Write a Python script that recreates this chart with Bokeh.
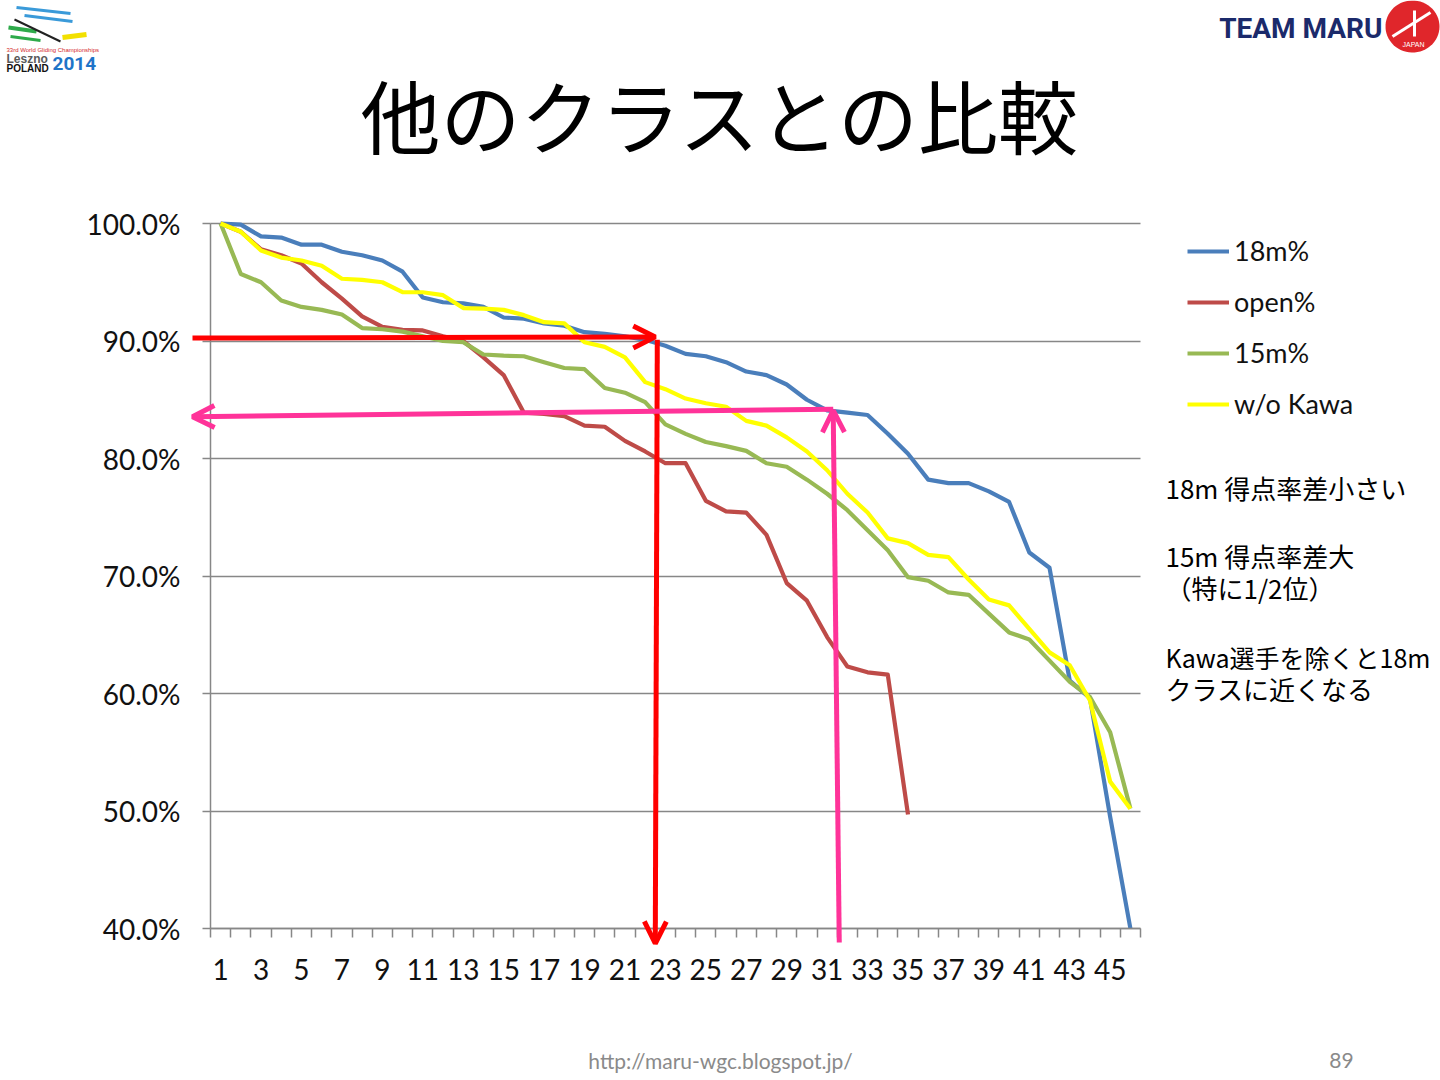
import numpy as np
from bokeh.plotting import figure
from bokeh.models import (Range1d, FixedTicker, PrintfTickFormatter, Legend, LegendItem,
                          Label, Arrow, OpenHead, PolyAnnotation, LinearAxis, Grid)
from bokeh.embed import file_html
from bokeh.resources import INLINE

# ---------------- data ----------------
places = list(range(1, 47))
pct_18m = [100.0, 99.9, 98.9, 98.8, 98.2, 98.2, 97.6, 97.3, 96.85, 95.9,
           93.7, 93.3, 93.2, 92.9, 92.0, 91.9, 91.5, 91.3, 90.75, 90.6,
           90.4, 90.1, 89.6, 88.9, 88.7, 88.2, 87.4, 87.1, 86.3, 85.0,
           84.1, 83.9, 83.7, 82.1, 80.4, 78.2, 77.9, 77.9, 77.2, 76.3,
           72.0, 70.7, 61.1, 59.6, 49.5, 40.0]
pct_open = [100.0, 99.3, 97.8, 97.3, 96.6, 95.0, 93.6, 92.1, 91.2, 90.95,
            90.9, 90.4, 90.0, 88.6, 87.1, 83.9, 83.8, 83.6, 82.8, 82.7,
            81.5, 80.6, 79.6, 79.6, 76.4, 75.5, 75.4, 73.5, 69.4, 67.9,
            64.8, 62.3, 61.8, 61.6, 49.7]
pct_15m = [100.0, 95.7, 95.0, 93.45, 92.9, 92.65, 92.25, 91.1, 91.0, 90.8,
           90.4, 90.0, 89.9, 88.85, 88.75, 88.7, 88.2, 87.7, 87.6, 86.0,
           85.6, 84.8, 82.9, 82.1, 81.4, 81.05, 80.65, 79.6, 79.3, 78.2,
           77.0, 75.6, 73.9, 72.2, 69.9, 69.6, 68.6, 68.4, 66.8, 65.2,
           64.6, 62.8, 61.0, 59.7, 56.7, 50.2]
pct_wo_kawa = [100.0, 99.3, 97.7, 97.1, 96.85, 96.4, 95.3, 95.2, 95.0, 94.15,
               94.15, 93.9, 92.8, 92.75, 92.65, 92.2, 91.6, 91.5, 89.9, 89.5,
               88.6, 86.5, 85.9, 85.1, 84.7, 84.4, 83.2, 82.8, 81.8, 80.6,
               79.0, 77.0, 75.4, 73.2, 72.8, 71.8, 71.6, 69.7, 68.0, 67.5,
               65.5, 63.5, 62.4, 59.4, 52.5, 50.2]
series_names = ["18m%", "open%", "15m%", "w/o Kawa"]
y_ticks = [40, 50, 60, 70, 80, 90, 100]
x_label_ticks = list(range(1, 47, 2))

# reference markers (arrows)
red_ref_rank, red_ref_pct = 22.5, 90.1
pink_ref_rank, pink_ref_pct = 31.3, 84.1

title_text = "他のクラスとの比較"
notes = ["18m 得点率差小さい", "15m 得点率差大", "（特に1/2位）",
         "Kawa選手を除くと18m", "クラスに近くなる"]
footer_url = "http://maru-wgc.blogspot.jp/"
page_no = "89"

# ---------------- layout ----------------
W, H = 1440, 1080
PL, PT, PR, PB = 210, 223, 1140, 928   # chart area in page px
X0, X1, Y0, Y1 = 0.5, 46.5, 40.0, 100.0


def X(px):
    return X0 + (px - PL) * (X1 - X0) / (PR - PL)


def Y(py):
    return Y1 - (py - PT) * (Y1 - Y0) / (PB - PT)


p = figure(width=W, height=H, output_backend="svg", toolbar_location=None,
           title=None, x_axis_location=None, y_axis_location=None,
           x_range=Range1d(X(0), X(W)), y_range=Range1d(Y(H), Y(0)),
           min_border=0, min_border_left=0, min_border_right=0,
           min_border_top=0, min_border_bottom=0)
p.outline_line_color = None
p.background_fill_color = "white"
p.border_fill_color = "white"
p.grid.visible = False

GRID = "#878787"

# grid lines limited to the chart area
try:
    yg = Grid(dimension=1, ticker=FixedTicker(ticks=y_ticks), bounds=(Y0, Y1),
              cross_bounds=(X0, X1), grid_line_color=GRID, grid_line_width=1.5)
    p.add_layout(yg)
except Exception:
    p.segment(x0=[X0] * len(y_ticks), x1=[X1] * len(y_ticks), y0=y_ticks, y1=y_ticks,
              line_color=GRID, line_width=1.5)

xa = LinearAxis(fixed_location=Y0, bounds=(X0, X1))
xa.ticker = FixedTicker(ticks=x_label_ticks,
                        minor_ticks=[i + 0.5 for i in range(0, 47)])
xa.major_label_overrides = {t: str(t) for t in x_label_ticks}
xa.major_tick_out = 0
xa.major_tick_in = 0
xa.minor_tick_out = 9
xa.minor_tick_in = 0
xa.minor_tick_line_color = GRID
xa.minor_tick_line_width = 1.5
xa.axis_line_color = GRID
xa.axis_line_width = 1.5
xa.major_label_text_font = "Lato"
xa.major_label_text_font_size = "28px"
xa.major_label_text_color = "#111111"
xa.major_label_standoff = 21
p.add_layout(xa, "below")

ya = LinearAxis(fixed_location=X0, bounds=(Y0, Y1))
ya.ticker = FixedTicker(ticks=y_ticks, minor_ticks=[])
ya.formatter = PrintfTickFormatter(format="%.1f%%")
ya.major_tick_out = 8
ya.major_tick_in = 0
ya.major_tick_line_color = GRID
ya.major_tick_line_width = 1.5
ya.minor_tick_line_color = None
ya.axis_line_color = GRID
ya.axis_line_width = 1.5
ya.major_label_text_font = "Lato"
ya.major_label_text_font_size = "28px"
ya.major_label_text_color = "#111111"
ya.major_label_standoff = 22
p.add_layout(ya, "left")

colors = ["#4A7EBB", "#BE4B48", "#98B954", "#FFFF00"]
data = [pct_18m, pct_open, pct_15m, pct_wo_kawa]
renderers = []
for vals, c in zip(data, colors):
    r = p.line(places[:len(vals)], vals, line_color=c, line_width=4.2,
               line_join="round")
    renderers.append(r)

legend = Legend(items=[LegendItem(label=n, renderers=[r])
                       for n, r in zip(series_names, renderers)],
                location=(1187, H - 420), orientation="vertical",
                padding=0, margin=0, spacing=18, glyph_width=42,
                glyph_height=30, label_height=30, label_standoff=5,
                label_text_font="Lato", label_text_font_size="27px",
                label_text_color="#111111", border_line_color=None,
                background_fill_alpha=0)
p.add_layout(legend, "center")

# ---------------- arrows ----------------
RED, PINK = "#FF0000", "#FF3399"
p.add_layout(Arrow(x_start=X(192), y_start=red_ref_pct + 0.15,
                   x_end=red_ref_rank, y_end=red_ref_pct + 0.25,
                   line_color=RED, line_width=5,
                   end=OpenHead(size=22, line_color=RED, line_width=5)))
p.add_layout(Arrow(x_start=red_ref_rank + 0.1, y_start=red_ref_pct,
                   x_end=red_ref_rank, y_end=Y(943),
                   line_color=RED, line_width=5,
                   end=OpenHead(size=22, line_color=RED, line_width=5)))
p.add_layout(Arrow(x_start=pink_ref_rank, y_start=pink_ref_pct + 0.1,
                   x_end=X(192), y_end=pink_ref_pct - 0.55,
                   line_color=PINK, line_width=5,
                   end=OpenHead(size=22, line_color=PINK, line_width=5)))
p.add_layout(Arrow(x_start=pink_ref_rank + 0.3, y_start=Y(942),
                   x_end=pink_ref_rank, y_end=pink_ref_pct,
                   line_color=PINK, line_width=5,
                   end=OpenHead(size=22, line_color=PINK, line_width=5)))

# ---------------- texts ----------------
p.add_layout(Label(x=X(720), y=Y(112), text=title_text, text_align="center",
                   text_baseline="middle", text_font="Noto Sans CJK JP",
                   text_font_size="80px", text_color="#000000"))

note_rows = [487, 555, 587, 656, 688]
note_sizes = ["26px", "26px", "26px", "25px", "26px"]
for t, py, fs in zip(notes, note_rows, note_sizes):
    p.add_layout(Label(x=X(1165), y=Y(py), text=t, text_align="left",
                       text_baseline="middle", text_font="Noto Sans CJK JP",
                       text_font_size=fs, text_color="#000000"))

p.add_layout(Label(x=X(720), y=Y(1060), text=footer_url, text_align="center",
                   text_baseline="middle", text_font="Lato",
                   text_font_size="21px", text_color="#8A8A8A"))
p.add_layout(Label(x=X(1341), y=Y(1060), text=page_no, text_align="center",
                   text_baseline="middle", text_font="Lato",
                   text_font_size="21px", text_color="#8A8A8A"))

# ---------------- logos ----------------
# left: WGC 2014 Leszno
for (x0, y0, x1, y1, c, w) in [(16, 7, 70, 13, "#3A9AD9", 3), (24, 15, 72, 21, "#3A9AD9", 3),
                               (8, 27, 36, 31, "#2EAA4A", 4), (10, 36, 40, 40, "#2EAA4A", 3),
                               (14, 19, 60, 41, "#222222", 2), (62, 37, 86, 34, "#F2E000", 5)]:
    p.add_layout(Arrow(x_start=X(x0), y_start=Y(y0), x_end=X(x1), y_end=Y(y1),
                       line_color=c, line_width=w, end=None))
p.add_layout(Label(x=X(6), y=Y(49), text="33rd World Gliding Championships",
                   text_align="left", text_baseline="middle", text_font="Liberation Sans",
                   text_font_size="6px", text_color="#D42A2A"))
p.add_layout(Label(x=X(6), y=Y(58), text="Leszno", text_align="left",
                   text_baseline="middle", text_font="Liberation Sans", text_font_style="bold",
                   text_font_size="12px", text_color="#5A5A5A"))
p.add_layout(Label(x=X(6), y=Y(68), text="POLAND", text_align="left",
                   text_baseline="middle", text_font="Liberation Sans", text_font_style="bold",
                   text_font_size="10px", text_color="#111111"))
p.add_layout(Label(x=X(52), y=Y(63), text="2014", text_align="left",
                   text_baseline="middle", text_font="Roboto",
                   text_font_style="bold", text_font_size="19px", text_color="#1E74C8"))

# right: TEAM MARU
p.add_layout(Label(x=X(1382), y=Y(28), text="TEAM MARU", text_align="right",
                   text_baseline="middle", text_font="Roboto",
                   text_font_style="bold", text_font_size="28px", text_color="#1B2A6B"))
ang = np.linspace(0, 2 * np.pi, 60)
p.add_layout(PolyAnnotation(xs=[X(1412 + 27 * np.cos(a)) for a in ang],
                            ys=[Y(26 + 26 * np.sin(a)) for a in ang],
                            fill_color="#E0262B", fill_alpha=1, line_color=None))
p.add_layout(Arrow(x_start=X(1392), y_start=Y(36), x_end=X(1430), y_end=Y(12),
                   line_color="white", line_width=3, end=None))
p.add_layout(Arrow(x_start=X(1414), y_start=Y(10), x_end=X(1414), y_end=Y(36),
                   line_color="white", line_width=3, end=None))
p.add_layout(Label(x=X(1413), y=Y(44), text="JAPAN", text_align="center",
                   text_baseline="middle", text_font="Liberation Sans",
                   text_font_size="7px", text_color="white"))

open("out.html", "w").write(file_html(p, INLINE))
